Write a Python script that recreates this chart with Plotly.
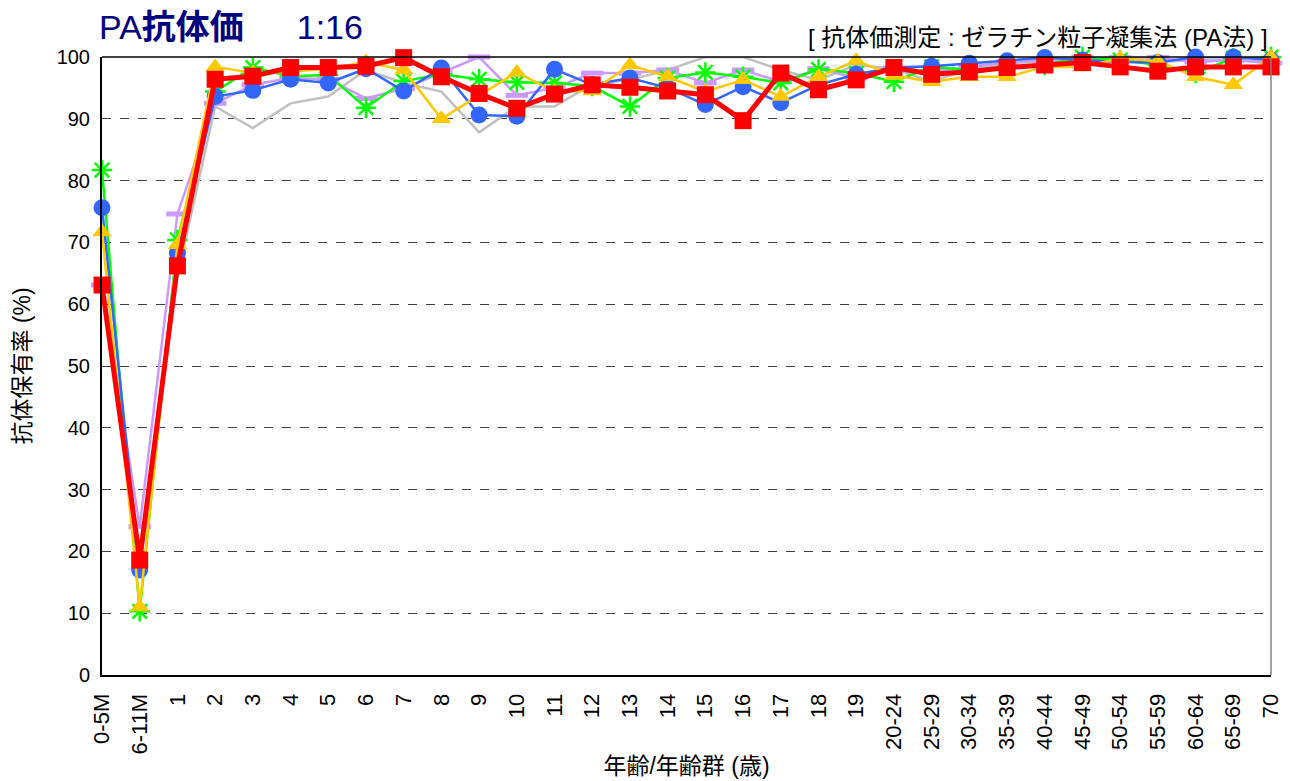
import plotly.graph_objects as go

categories = ["0-5M", "6-11M", "1", "2", "3", "4", "5", "6", "7", "8", "9", "10",
              "11", "12", "13", "14", "15", "16", "17", "18", "19",
              "20-24", "25-29", "30-34", "35-39", "40-44", "45-49", "50-54",
              "55-59", "60-64", "65-69", "70"]

series_gray = [64.0, 20.0, 64.5, 92.0, 88.5, 92.5, 93.6, 97.9, 95.8, 94.4, 87.8, 92.0,
               92.0, 95.6, 96.3, 97.9, 100.0, 100.0, 97.9, 96.3, 98.7,
               98.1, 96.0, 98.1, 99.0, 99.2, 99.5, 99.5, 99.2, 99.5, 99.5, 99.2]
series_lavender = [63.1, 24.0, 74.6, 92.5, 95.5, 96.6, 96.4, 93.3, 94.9, 97.4, 100.0, 93.8,
                   95.0, 97.4, 97.4, 97.9, 95.8, 97.9, 96.0, 98.1, 96.6,
                   98.2, 97.6, 98.4, 99.2, 99.5, 99.9, 99.9, 99.9, 99.2, 99.5, 99.0]
series_green = [81.7, 10.3, 70.4, 94.4, 98.3, 96.9, 97.1, 91.8, 96.1, 97.2, 96.4, 95.9,
                95.8, 95.3, 92.0, 96.6, 97.5, 96.8, 95.8, 98.0, 97.4,
                96.0, 98.4, 97.9, 98.4, 98.7, 100.0, 99.5, 98.7, 97.4, 99.8, 100.0]
series_blue = [75.6, 17.0, 68.3, 93.6, 94.6, 96.4, 95.8, 98.1, 94.5, 98.2, 90.6, 90.4,
               98.0, 95.5, 96.6, 95.0, 92.3, 95.2, 92.6, 95.5, 97.2,
               98.3, 98.5, 99.0, 99.4, 99.9, 99.5, 99.2, 99.1, 100.0, 100.0, 99.5]
series_yellow = [71.7, 11.0, 69.6, 98.4, 97.4, 97.6, 98.1, 99.2, 97.9, 90.0, 93.8, 97.5,
                 94.4, 94.5, 98.7, 96.8, 94.4, 96.3, 93.6, 96.8, 99.4,
                 97.0, 96.0, 96.8, 96.8, 98.4, 98.4, 99.8, 99.3, 96.8, 95.5, 100.0]
series_red = [63.1, 18.6, 66.2, 96.4, 96.9, 98.3, 98.3, 98.5, 99.9, 96.8, 94.1, 91.7,
              94.0, 95.5, 95.1, 94.5, 93.9, 89.7, 97.4, 94.7, 96.3,
              98.3, 97.2, 97.6, 98.3, 98.7, 99.1, 98.4, 97.7, 98.4, 98.4, 98.4]

y_ticks = [0, 10, 20, 30, 40, 50, 60, 70, 80, 90, 100]

FONT = "Liberation Sans, Arial, Noto Sans CJK JP, sans-serif"

fig = go.Figure()

fig.add_trace(go.Scatter(x=categories, y=series_gray, mode="lines",
                         line=dict(color="#C0C0C0", width=2.5), cliponaxis=False))
fig.add_trace(go.Scatter(x=categories, y=series_lavender, mode="lines+markers",
                         line=dict(color="#CC99FF", width=2.5),
                         marker=dict(symbol="line-ew", size=16,
                                     line=dict(color="#CC99FF", width=5)),
                         cliponaxis=False))
fig.add_trace(go.Scatter(x=categories, y=series_green, mode="lines+markers",
                         line=dict(color="#00FF00", width=2.5),
                         marker=dict(symbol="asterisk", size=17,
                                     line=dict(color="#00FF00", width=2.5)),
                         cliponaxis=False))
fig.add_trace(go.Scatter(x=categories, y=series_blue, mode="lines+markers",
                         line=dict(color="#3366FF", width=2.5),
                         marker=dict(symbol="circle", size=17, color="#3366FF"),
                         cliponaxis=False))
fig.add_trace(go.Scatter(x=categories, y=series_yellow, mode="lines+markers",
                         line=dict(color="#FFC800", width=2.5),
                         marker=dict(symbol="triangle-up", size=17, color="#FFC800"),
                         cliponaxis=False))
fig.add_trace(go.Scatter(x=categories, y=series_red, mode="lines+markers",
                         line=dict(color="#FF0000", width=5),
                         marker=dict(symbol="square", size=17, color="#FF0000"),
                         cliponaxis=False))

fig.update_layout(
    width=1290, height=781,
    margin=dict(l=102, r=19, t=57, b=106, autoexpand=False),
    paper_bgcolor="white", plot_bgcolor="white",
    showlegend=False,
    font=dict(family=FONT, size=20, color="black"),
    xaxis=dict(
        type="category", categoryorder="array", categoryarray=categories,
        range=[0, 31], showgrid=False, zeroline=False,
        showline=True, linecolor="black", linewidth=2,
        tickangle=-90, tickfont=dict(size=22, family=FONT),
        ticks="", ticklabelstandoff=8, automargin=False,
        title=dict(text="年齢/年齢群 (歳)", font=dict(size=23, family=FONT), standoff=4),
    ),
    yaxis=dict(
        range=[0, 100], tickvals=y_ticks, showgrid=True,
        gridcolor="#404040", griddash="dash", gridwidth=1,
        zeroline=False, showline=True, linecolor="black", linewidth=2,
        ticks="", ticklabelstandoff=6, tickfont=dict(size=20, family=FONT),
        automargin=False,
        title=dict(text="抗体保有率 (%)", font=dict(size=23, family=FONT), standoff=20),
    ),
    shapes=[
        dict(type="line", xref="paper", yref="paper", x0=0, x1=1, y0=1, y1=1,
             line=dict(color="black", width=1.5)),
        dict(type="line", xref="paper", yref="paper", x0=1, x1=1, y0=0, y1=1,
             line=dict(color="#808080", width=1.5)),
    ],
    annotations=[
        dict(text="PA<b>抗体価</b>　  1:16", xref="paper", yref="paper",
             x=-0.004, y=1.049, xanchor="left", yanchor="middle", showarrow=False,
             font=dict(size=34, color="#000080", family=FONT)),
        dict(text="[ 抗体価測定 : ゼラチン粒子凝集法 (PA法) ]", xref="paper", yref="paper",
             x=0.9991, y=1.031, xanchor="right", yanchor="middle", showarrow=False,
             font=dict(size=24, color="black", family=FONT)),
    ],
)

fig.write_html("out.html", config={"displayModeBar": False},
               post_script="document.body.style.margin='0';document.body.style.overflow='hidden';")
